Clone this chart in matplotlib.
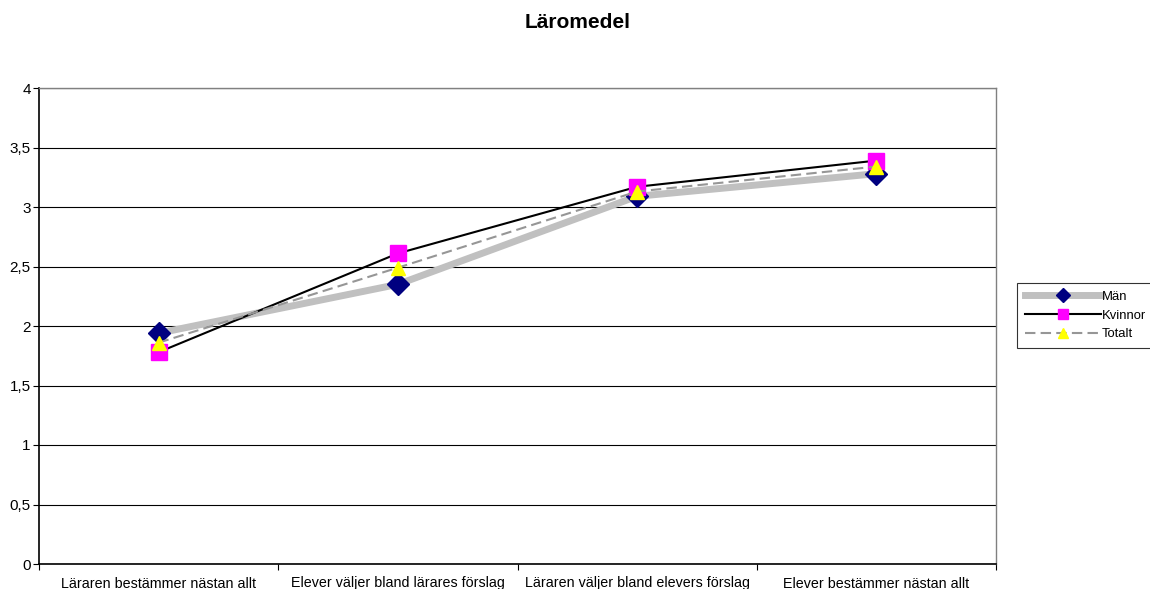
import matplotlib
matplotlib.use("Agg")
import matplotlib.pyplot as plt
from matplotlib.ticker import MultipleLocator, FuncFormatter

plt.rcParams['font.family'] = ['Liberation Sans', 'DejaVu Sans']

categories = ["Läraren bestämmer nästan allt", "Elever väljer bland lärares förslag",
              "Läraren väljer bland elevers förslag", "Elever bestämmer nästan allt"]
man = [1.94, 2.35, 3.09, 3.28]
kvinnor = [1.78, 2.61, 3.17, 3.39]
totalt = [1.86, 2.49, 3.13, 3.34]

fig = plt.figure(figsize=(11.5, 5.89), dpi=100)
ax = fig.add_axes([39 / 1150, 25 / 589, 957 / 1150, 476 / 589])

x = [i + 0.5 for i in range(len(categories))]
ax.plot(x, man, color="#C0C0C0", lw=5, marker="D", ms=11.5, mfc="#000080", mec="#000080",
        label="Män", zorder=3)
ax.plot(x, kvinnor, color="black", lw=1.5, marker="s", ms=11, mfc="#FF00FF", mec="#FF00FF",
        label="Kvinnor", zorder=4)
ax.plot(x, totalt, color="#969696", lw=1.5, ls=(0, (5, 2.5)), marker="^", ms=10.5,
        mfc="#FFFF00", mec="#FFFF00", label="Totalt", zorder=5)

ax.set_xlim(0, len(categories))
ax.set_ylim(0, 4)
ax.yaxis.set_major_locator(MultipleLocator(0.5))
ax.yaxis.set_major_formatter(FuncFormatter(lambda v, p: f"{v:g}".replace(".", ",")))
ax.set_xticks(range(len(categories) + 1))
ax.set_xticklabels([])
ax.set_xticks(x, minor=True)
ax.set_xticklabels(categories, minor=True)
ax.tick_params(axis="x", which="minor", length=0, pad=9, labelsize=10.3)
ax.tick_params(axis="x", which="major", length=4, direction="out")
ax.tick_params(axis="y", length=4, direction="out", labelsize=11, pad=2)
ax.grid(axis="y", color="black", lw=0.8)
for s in ["left", "bottom"]:
    ax.spines[s].set_linewidth(1.2)
for s in ["top", "right"]:
    ax.spines[s].set_color("#808080")
    ax.spines[s].set_linewidth(1.0)

fig.text(578 / 1150, 1 - 23 / 589, "Läromedel", ha="center", va="center",
         fontsize=15, fontweight="bold")

leg = fig.legend(loc="upper left", bbox_to_anchor=(1017 / 1150, 1 - 283 / 589),
                 fontsize=9.4, frameon=True, fancybox=False, edgecolor="black",
                 handlelength=5.8, handletextpad=0.12, borderpad=0.6, labelspacing=0.5,
                 borderaxespad=0, markerscale=0.65)
leg.get_frame().set_linewidth(0.8)

fig.savefig("out.png", dpi=100)
